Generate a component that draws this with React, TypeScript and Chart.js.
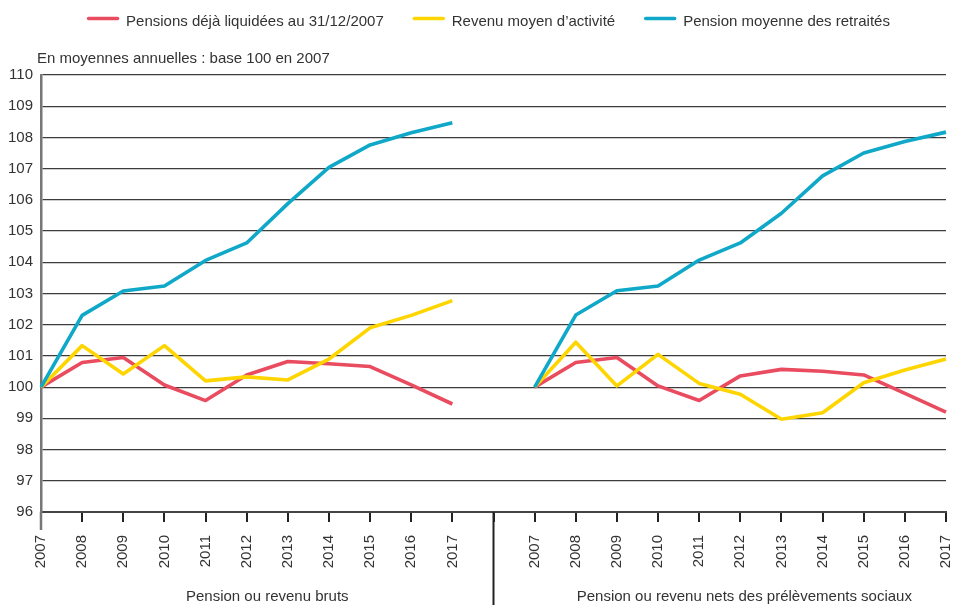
import React, { useEffect, useRef } from "react";
import { Chart, registerables } from "chart.js";

Chart.register(...registerables);

const years = ["2007", "2008", "2009", "2010", "2011", "2012", "2013", "2014", "2015", "2016", "2017"];
const categories = [...years, "", ...years];
const panelTitles = ["Pension ou revenu bruts", "Pension ou revenu nets des prélèvements sociaux"];
const subtitle = "En moyennes annuelles : base 100 en 2007";
const seriesLabels = ["Pensions déjà liquidées au 31/12/2007", "Revenu moyen d’activité", "Pension moyenne des retraités"];
const seriesColors = ["#E94B5F", "#FFD500", "#0FA8C8"];
const yMin = 96;
const yMax = 110;

const pensionsLiquideesBruts = [100, 100.79, 100.95, 100.07, 99.57, 100.39, 100.82, 100.75, 100.66, 100.07, 99.46];
const pensionsLiquideesNets = [100, 100.79, 100.95, 100.04, 99.57, 100.36, 100.57, 100.51, 100.39, 99.8, 99.2];
const revenuBruts = [100, 101.33, 100.42, 101.33, 100.2, 100.33, 100.23, 100.9, 101.9, 102.3, 102.77];
const revenuNets = [100, 101.44, 100.04, 101.05, 100.12, 99.77, 98.97, 99.18, 100.14, 100.55, 100.9];
const pensionMoyBruts = [100, 102.3, 103.08, 103.24, 104.06, 104.62, 105.88, 107.04, 107.76, 108.15, 108.47];
const pensionMoyNets = [100, 102.31, 103.09, 103.24, 104.07, 104.62, 105.57, 106.77, 107.5, 107.87, 108.17];

const join = (a: number[], b: number[]) => [...a, null, ...b];

const FONT_FAMILY = "'Liberation Sans', Arial, sans-serif";
const TEXT_COLOR = "#333333";

const decorations = {
  id: "decorations",
  afterDraw(chart: any) {
    const { ctx, chartArea } = chart;
    const x = chart.scales.x;
    ctx.save();
    // divider between panels
    const xd = x.getPixelForValue(11);
    ctx.strokeStyle = "#222222";
    ctx.lineWidth = 2;
    ctx.beginPath();
    ctx.moveTo(xd, chartArea.bottom);
    ctx.lineTo(xd, chart.height);
    ctx.stroke();
    // left axis extension
    ctx.strokeStyle = "#777777";
    ctx.lineWidth = 2.5;
    ctx.beginPath();
    ctx.moveTo(chartArea.left, chartArea.bottom);
    ctx.lineTo(chartArea.left, chartArea.bottom + 18);
    ctx.stroke();

    ctx.fillStyle = TEXT_COLOR;
    ctx.font = `15px ${FONT_FAMILY}`;
    ctx.textBaseline = "alphabetic";
    ctx.textAlign = "left";
    ctx.fillText(subtitle, chartArea.left - 4, chartArea.top - 12);

    ctx.textAlign = "center";
    ctx.fillText(panelTitles[0], (x.getPixelForValue(0) + x.getPixelForValue(11)) / 2, chart.height - 4);
    ctx.fillText(panelTitles[1], (x.getPixelForValue(12) + x.getPixelForValue(22)) / 2 + 4, chart.height - 4);

    // legend
    const sw = 32;
    const gapText = 7;
    const gapItem = 29;
    const widths = seriesLabels.map((t) => ctx.measureText(t).width);
    const total = widths.reduce((s, w) => s + sw + gapText + w, 0) + gapItem * (seriesLabels.length - 1);
    let cx = chart.width / 2 - total / 2 + 9;
    ctx.textAlign = "left";
    seriesLabels.forEach((t, i) => {
      ctx.strokeStyle = seriesColors[i];
      ctx.lineWidth = 3.5;
      ctx.lineCap = "round";
      ctx.beginPath();
      ctx.moveTo(cx + 1.5, 18.5);
      ctx.lineTo(cx + sw - 1.5, 18.5);
      ctx.stroke();
      ctx.fillStyle = TEXT_COLOR;
      ctx.fillText(t, cx + sw + gapText, 25.5);
      cx += sw + gapText + widths[i] + gapItem;
    });
    ctx.restore();
  },
};

export default function App() {
  const ref = useRef<HTMLCanvasElement | null>(null);
  useEffect(() => {
    if (!ref.current) return;
    const mk = (label: string, data: (number | null)[], color: string, order: number) => ({
      label,
      data,
      borderColor: color,
      backgroundColor: color,
      borderWidth: 3.6,
      pointRadius: 0,
      pointHoverRadius: 0,
      tension: 0,
      spanGaps: false,
      borderJoinStyle: "round" as const,
      order,
    });
    const chart = new Chart(ref.current, {
      type: "line",
      data: {
        labels: categories,
        datasets: [
          mk(seriesLabels[0], join(pensionsLiquideesBruts, pensionsLiquideesNets), seriesColors[0], 3),
          mk(seriesLabels[1], join(revenuBruts, revenuNets), seriesColors[1], 2),
          mk(seriesLabels[2], join(pensionMoyBruts, pensionMoyNets), seriesColors[2], 1),
        ],
      },
      options: {
        animation: false,
        responsive: false,
        events: [],
        layout: { padding: { top: 75, right: 13, bottom: 0, left: 0 } },
        plugins: {
          legend: { display: false },
          title: { display: false },
          tooltip: { enabled: false },
        },
        scales: {
          x: {
            type: "category",
            offset: false,
            grid: {
              drawOnChartArea: false,
              drawTicks: true,
              tickLength: 10,
              color: "#222222",
              lineWidth: 2,
            },
            border: { display: true, color: "#444444", width: 2 },
            ticks: {
              autoSkip: false,
              maxRotation: 90,
              minRotation: 90,
              padding: 13,
              color: TEXT_COLOR,
              font: { size: 15, family: FONT_FAMILY },
            },
            afterFit: (s: any) => {
              s.height = 93;
              s.paddingLeft = 0;
              s.paddingRight = 0;
            },
          },
          y: {
            min: yMin,
            max: yMax,
            ticks: {
              stepSize: 1,
              padding: 8,
              color: TEXT_COLOR,
              font: { size: 15, family: FONT_FAMILY },
            },
            grid: {
              drawTicks: false,
              color: "#3c3c3c",
              lineWidth: 1.2,
            },
            border: { display: true, color: "#777777", width: 2.5 },
            afterFit: (s: any) => {
              s.width = 41;
            },
          },
        },
      },
      plugins: [decorations],
    });
    return () => chart.destroy();
  }, []);
  return (
    <div style={{ position: "fixed", left: 0, top: 0, width: 959, height: 605, background: "#ffffff" }}>
      <canvas ref={ref} width={959} height={605} style={{ display: "block" }} />
    </div>
  );
}
